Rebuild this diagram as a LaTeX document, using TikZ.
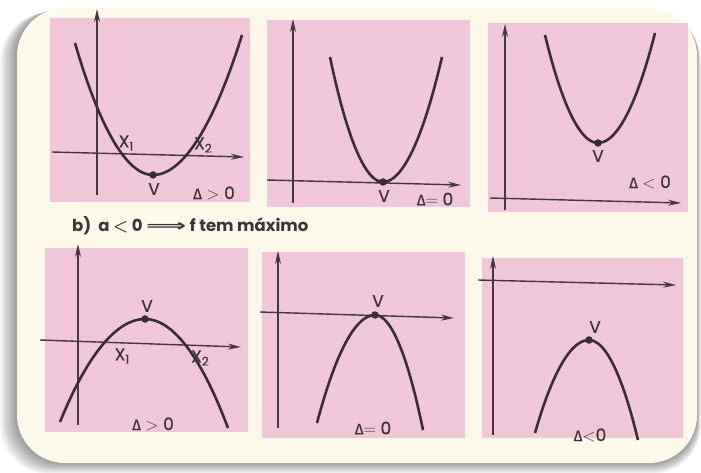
\documentclass[tikz,border=0pt]{standalone}
\usepackage{fontspec}
\setmainfont{Poppins}
\newfontfamily\lblfont[FakeBold=0.6]{Poppins}
\newfontfamily\grk[FakeBold=0.4]{Fira Sans}
\newfontfamily\djv{DejaVu Sans}
\usetikzlibrary{arrows.meta}
\definecolor{pnk}{RGB}{240,199,216}
\definecolor{crm}{RGB}{252,249,234}
\definecolor{axc}{RGB}{66,56,62}
\definecolor{crv}{RGB}{55,45,51}
\definecolor{txt}{RGB}{60,52,58}
\newcommand\dlt{{\grk\fontsize{15}{15}\selectfont Δ}}
\newcommand\lowsub[1]{\raisebox{-0.35ex}{\fontsize{12}{12}\selectfont #1}}
\begin{document}
\begin{tikzpicture}[x=1pt,y=-1pt,
  axis/.style={line width=1.4pt, draw=axc, -{Stealth[length=13pt,width=6pt]}},
  curve/.style={line width=2.6pt, draw=crv},
  vdot/.style={circle, fill=crv, inner sep=0pt, minimum size=7.5pt},
  lbl/.style={font=\lblfont\fontsize{17}{17}\selectfont, text=txt, inner sep=0pt},
  panel/.style={fill=pnk, draw=none}]
\useasboundingbox (0,0) rectangle (701,473);
\fill[white] (0,0) rectangle (701,473);
% shadow
\foreach \i in {1,...,12}{
  \fill[black, opacity=0.035, rounded corners=48pt]
    (17-1.4*\i, 8+0.4*\i) rectangle (697+0.3*\i, 463+0.9*\i);
}
\fill[crm, rounded corners=48pt] (17,8) rectangle (697,463);
% panels
\fill[panel] (50,18) rectangle (250,202);
\fill[panel] (267,20) rectangle (470,207);
\fill[panel] (488,23) rectangle (688,212);
\fill[panel] (45,248) rectangle (248,432);
\fill[panel] (262,252) rectangle (465,438);
\fill[panel] (482,258) rectangle (683,438);

% ---- panel 1
\coordinate (p1xa) at (52,152); \coordinate (p1xb) at (244,157);
\coordinate (p1ya) at (97,195); \coordinate (p1yb) at (97,9);
\draw[axis] (p1xa) -- (p1xb);
\draw[axis] (p1ya) -- (p1yb);
\draw[curve] (75,43) parabola bend (153,175) (242,35);
\node[vdot] (v1) at (153,175) {};
\node[lbl] (x11) at (126,143) {X\lowsub{1}};
\node[lbl] (x12) at (203,145) {X\lowsub{2}};
\node[lbl] (v1l) at (154,189) {V};
\node[lbl] (d1) at (214,193) {\dlt\ $>$ 0};

% ---- panel 2
\coordinate (p2xa) at (267,180); \coordinate (p2xb) at (461,185);
\coordinate (p2ya) at (293,203); \coordinate (p2yb) at (293,19);
\draw[axis] (p2xa) -- (p2xb);
\draw[axis] (p2ya) -- (p2yb);
\draw[curve] (330,57) parabola bend (383,182) (442,57);
\node[vdot] (v2) at (383,182) {};
\node[lbl] (v2l) at (384,196) {V};
\node[lbl] (d2) at (435,199) {\dlt$=$ 0};

% ---- panel 3
\coordinate (p3xa) at (490,198); \coordinate (p3xb) at (681,203);
\coordinate (p3ya) at (505,210); \coordinate (p3yb) at (505,24);
\draw[axis] (p3xa) -- (p3xb);
\draw[axis] (p3ya) -- (p3yb);
\draw[curve] (545,35) parabola bend (598,143) (655,33);
\node[vdot] (v3) at (598,143) {};
\node[lbl] (v3l) at (598,156) {V};
\node[lbl] (d3) at (650,182) {\dlt\ $<$ 0};

% ---- title
\node[text=txt, inner sep=0pt, anchor=west, font=\bfseries\fontsize{16.5}{16.5}\selectfont\boldmath]
  (title) at (72,226) {b)\ \ a $<$ 0 \scalebox{1.7}[1]{\djv\bfseries ⟹} f tem máximo};

% ---- panel 4
\coordinate (p4xa) at (40,340); \coordinate (p4xb) at (241,347);
\coordinate (p4ya) at (78,425); \coordinate (p4yb) at (78,244);
\draw[axis] (p4xa) -- (p4xb);
\draw[axis] (p4ya) -- (p4yb);
\draw[curve] (60,422) parabola bend (145,319) (228,428);
\node[vdot] (v4) at (145,319) {};
\node[lbl] (v4l) at (147,306) {V};
\node[lbl] (x41) at (122,356) {X\lowsub{1}};
\node[lbl] (x42) at (200,358) {X\lowsub{2}};
\node[lbl] (d4) at (153,424) {\dlt\ $>$ 0};

% ---- panel 5
\coordinate (p5xa) at (260,312); \coordinate (p5xb) at (454,318);
\coordinate (p5ya) at (278,428); \coordinate (p5yb) at (278,251);
\draw[axis] (p5xa) -- (p5xb);
\draw[axis] (p5ya) -- (p5yb);
\draw[curve] (317,423) parabola bend (375,315) (423,430);
\node[vdot] (v5) at (375,315) {};
\node[lbl] (v5l) at (378,301) {V};
\node[lbl] (d5) at (373,428) {\dlt$=$ 0};

% ---- panel 6
\coordinate (p6xa) at (478,280); \coordinate (p6xb) at (676,285);
\coordinate (p6ya) at (493,435); \coordinate (p6yb) at (493,256);
\draw[axis] (p6xa) -- (p6xb);
\draw[axis] (p6ya) -- (p6yb);
\draw[curve] (535,433) parabola bend (589,340) (638,440);
\node[vdot] (v6) at (589,340) {};
\node[lbl] (v6l) at (595,327) {V};
\node[lbl] (d6) at (590,435) {\dlt$<$0};
\end{tikzpicture}
\end{document}
